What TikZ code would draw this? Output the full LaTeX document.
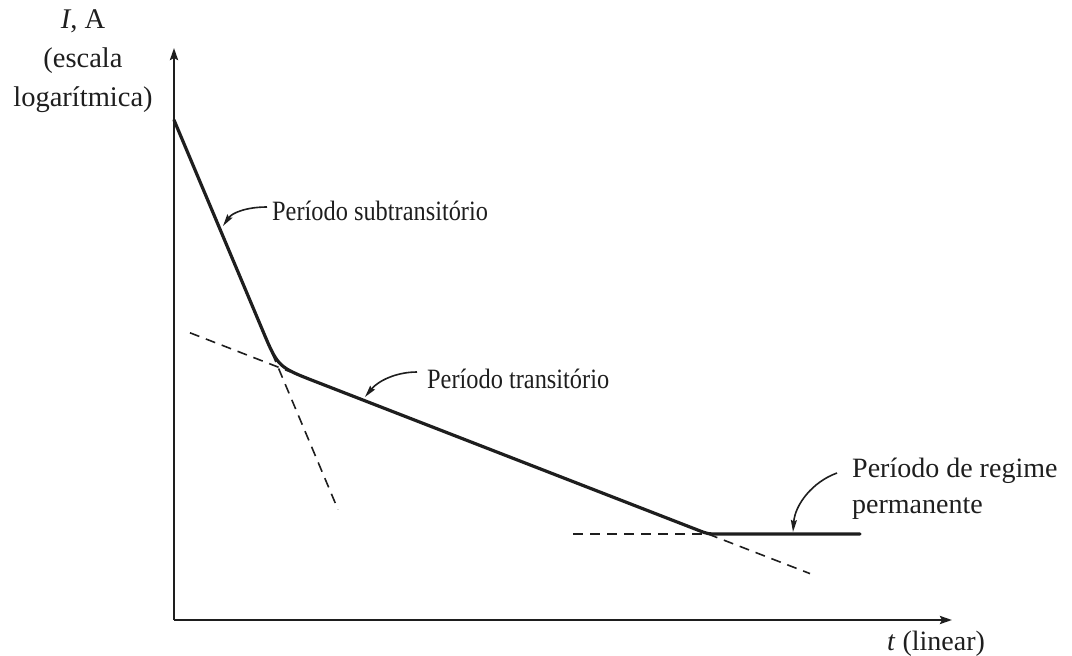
\documentclass[tikz,border=0pt]{standalone}
\usepackage{fontspec}
\setmainfont{Liberation Serif}
\newfontfamily\condfont[FakeStretch=0.87]{Liberation Serif}
\usetikzlibrary{arrows.meta}
\definecolor{ink}{HTML}{1E1E1E}
\tikzset{
  axisline/.style={draw=ink, line width=2.4pt, -{Stealth[length=12pt,width=8pt,inset=2pt]}},
  curveline/.style={draw=ink, line width=3.2pt, line join=round, line cap=round},
  dashline/.style={draw=ink, line width=1.6pt, dash pattern=on 10pt off 7pt},
  callout/.style={draw=ink, line width=1.6pt, -{Stealth[length=12pt,width=6pt,inset=1.5pt]}},
  lbl/.style={inner sep=0pt, anchor=base west, text=ink},
  clbl/.style={inner sep=0pt, anchor=base, text=ink}
}
\begin{document}
\begin{tikzpicture}[x=1pt,y=-1pt]
\useasboundingbox (0,0) rectangle (1072,656);
% axes
\coordinate (O) at (174,620);
\coordinate (ytip) at (174,48);
\coordinate (xtip) at (952,620);
\draw[axisline] (O) -- (ytip);
\draw[axisline] (O) -- (xtip);
% axis labels
\node[clbl, font=\fontsize{28.5}{34}\selectfont] (ya) at (83,28) {\textit{I}, A};
\node[clbl, font=\fontsize{28.5}{34}\selectfont] (yb) at (83,67) {(escala};
\node[clbl, font=\fontsize{28.5}{34}\selectfont] (yc) at (83,106) {logarítmica)};
\node[lbl, font=\fontsize{28}{34}\selectfont] (xl) at (887,650) {\textit{t} (linear)};
% key points
\coordinate (P0) at (174,120);
\coordinate (A) at (278,367);
\coordinate (A1) at (262.5,330.1);
\coordinate (A2) at (315.3,381.5);
\coordinate (B) at (708,534);
\coordinate (B1) at (698.7,530.4);
\coordinate (B2) at (718,534);
\coordinate (E) at (860,534);
% dashed asymptotes
\draw[dashline] (190,332.8) -- (290,371.7);
\draw[dashline] (272,352.8) -- (338,509.5);
\draw[dashline] (573,534) -- (B);
\draw[dashline] (B) -- (810,573.6);
% current curve
\draw[curveline] (P0) -- (A1) .. controls (A) .. (A2) -- (B1) .. controls (B) .. (B2) -- (E);
% labels
\node[lbl, font=\condfont\fontsize{28}{34}\selectfont] (sub) at (272,220) {Período subtransitório};
\node[lbl, font=\condfont\fontsize{28}{34}\selectfont] (tra) at (427,388) {Período transitório};
\node[lbl, font=\fontsize{28}{34}\selectfont] (reg1) at (852,477) {Período de regime};
\node[lbl, font=\fontsize{28}{34}\selectfont] (reg2) at (852,513) {permanente};
% callout arrows
\coordinate (s0) at (267,207);
\coordinate (s1) at (223,226);
\coordinate (t0) at (417,372);
\coordinate (t1) at (365,397);
\coordinate (r0) at (837,473);
\coordinate (r1) at (793,532);
\draw[callout] (s0) .. controls (246,207) and (232,213) .. (s1);
\draw[callout] (t0) .. controls (396,372) and (378,381) .. (t1);
\draw[callout] (r0) .. controls (812,482) and (795,505) .. (r1);
\end{tikzpicture}
\end{document}
